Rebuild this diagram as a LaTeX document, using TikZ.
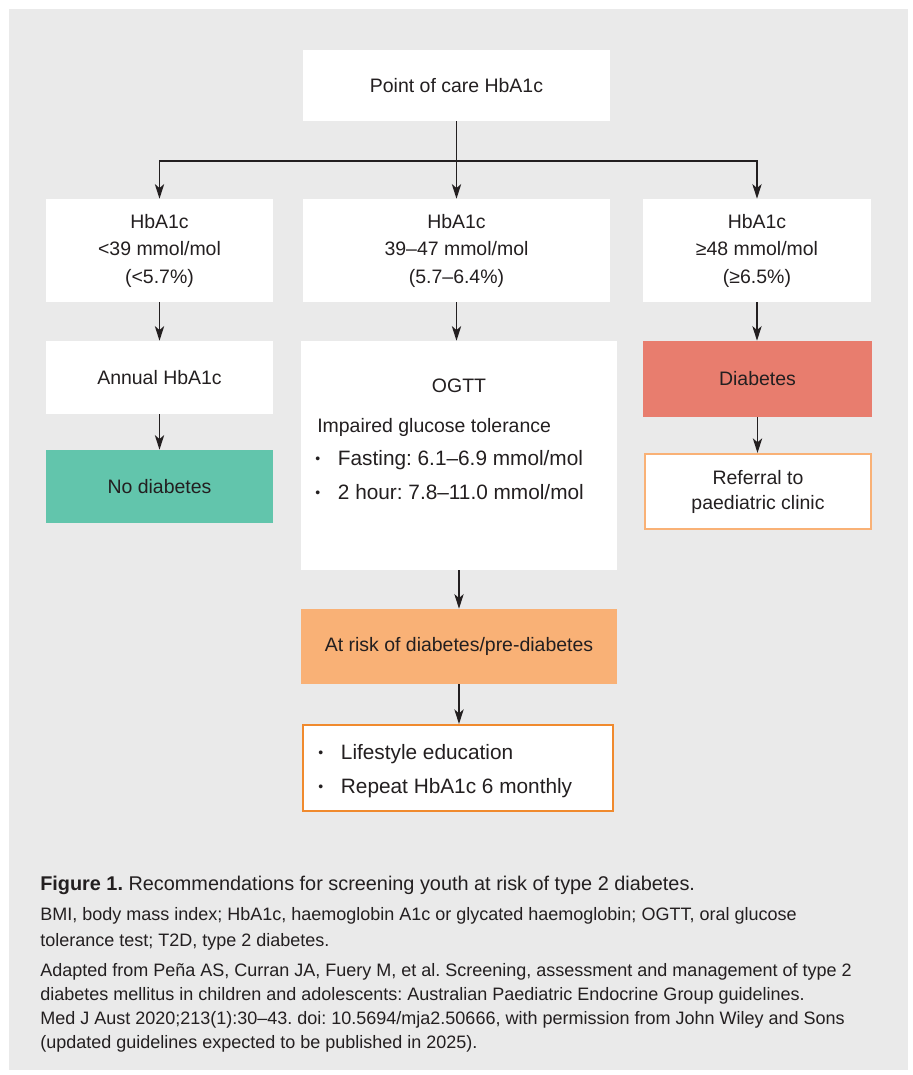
\documentclass[tikz,border=0pt]{standalone}
\usepackage{fontspec}
\setmainfont{Liberation Sans}
\usetikzlibrary{arrows.meta, calc, positioning}

\definecolor{panelgrey}{HTML}{EAEAEA}
\definecolor{ink}{HTML}{231F20}
\definecolor{nofill}{HTML}{62C5AC}
\definecolor{diabfill}{HTML}{E87D6E}
\definecolor{riskfill}{HTML}{F9B176}
\definecolor{riskline}{HTML}{F08A2E}

\newcommand{\boxfont}{\fontsize{14.6}{20.6}\selectfont}
\newcommand{\listfont}{\fontsize{15.6}{20}\selectfont}
\newcommand{\dotmark}{\makebox[17pt][l]{\raisebox{1pt}{\fontsize{10.5}{10.5}\selectfont\textbullet}}}

\tikzset{
    card/.style={rectangle, fill=white, inner sep=0pt, align=center, font=\boxfont, text=ink},
    link/.style={draw=ink, line width=1pt, -{Stealth[length=11pt, width=7pt, inset=3pt]}},
    item/.style={anchor=base west, inner sep=0pt, font=\listfont, text=ink},
    note/.style={anchor=base west, inner sep=0pt, text=ink, font=\fontsize{13.5}{16}\selectfont},
}

\begin{document}
\frenchspacing
\begin{tikzpicture}[x=0.75pt, y=-0.75pt]

    \useasboundingbox (0,0) rectangle (913,1075);
    \fill [panelgrey] (9,9) rectangle (908,1070);

    % top and first row
    \node [card, minimum width=230.25pt, minimum height=53.25pt] (poc) at (456.5,85.5) {Point of care HbA1c};
    \node [card, minimum width=170.25pt, minimum height=77.25pt] (low) at (159.5,250.5) {HbA1c\\<39 mmol/mol\\(<5.7\%)};
    \node [card, minimum width=230.25pt, minimum height=77.25pt] (mid) at (456.5,250.5) {HbA1c\\39–47 mmol/mol\\(5.7–6.4\%)};
    \node [card, minimum width=171pt, minimum height=77.25pt] (high) at (757,250.5) {HbA1c\\≥48 mmol/mol\\(≥6.5\%)};

    % left column
    \node [card, minimum width=170.25pt, minimum height=54.75pt] (annual) at (159.5,377.5) {Annual HbA1c};
    \node [card, fill=nofill, minimum width=170.25pt, minimum height=54.75pt] (nodiab) at (159.5,486.5) {No diabetes};

    % middle column
    \node [card, minimum width=237pt, minimum height=171.75pt] (ogtt) at (459,455.5) {};
    \node [card, anchor=base] (ogtttitle) at (459,392) {OGTT};
    \node [item, font=\boxfont] (igt) at (317,432) {Impaired glucose tolerance};
    \node [item] (fasting) at (315,465) {\dotmark Fasting: 6.1–6.9 mmol/mol};
    \node [item] (twohour) at (315,499) {\dotmark 2 hour: 7.8–11.0 mmol/mol};
    \node [card, fill=riskfill, minimum width=237pt, minimum height=56.25pt] (risk) at (459,646.5) {At risk of diabetes/pre-diabetes};
    \node [card, draw=riskline, line width=1.5pt, minimum width=232.5pt, minimum height=64.5pt] (plan) at (458,768) {};
    \node [item] (lifestyle) at (318,759) {\dotmark Lifestyle education};
    \node [item] (repeat) at (318,793) {\dotmark Repeat HbA1c 6 monthly};

    % right column
    \node [card, fill=diabfill, minimum width=171.75pt, minimum height=57pt] (diab) at (757.5,379) {Diabetes};
    \node [card, draw=riskfill, line width=1.5pt, minimum width=169.5pt, minimum height=56.25pt, font=\fontsize{14.6}{18.75}\selectfont] (referral) at (758,491.5) {Referral to\\paediatric clinic};

    % connectors
    \coordinate (fork) at (456.5,161);
    \draw [draw=ink, line width=1pt] (poc) -- (fork);
    \draw [link] (fork) -| (low);
    \draw [link] (fork) -- (mid);
    \draw [link] (fork) -| (high);
    \draw [link] (low) -- (annual);
    \draw [link] (annual) -- (nodiab);
    \draw [link] (mid.south) -- (mid.south |- ogtt.north);
    \draw [link] (ogtt) -- (risk);
    \draw [link] (risk.south) -- (risk.south |- plan.north);
    \draw [link] (high.south) -- (high.south |- diab.north);
    \draw [link] (diab.south) -- (diab.south |- referral.north);

    % caption
    \node [note, font=\fontsize{14.9}{18}\selectfont] (cap) at (40,890) {\textbf{Figure 1.} Recommendations for screening youth at risk of type 2 diabetes.};
    \node [note] (abbr1) at (40,920) {BMI, body mass index; HbA1c, haemoglobin A1c or glycated haemoglobin; OGTT, oral glucose};
    \node [note] (abbr2) at (40,946) {tolerance test; T2D, type 2 diabetes.};
    \node [note] (src1) at (40,976) {Adapted from Peña AS, Curran JA, Fuery M, et al. Screening, assessment and management of type 2};
    \node [note] (src2) at (40,1000) {diabetes mellitus in children and adolescents: Australian Paediatric Endocrine Group guidelines.};
    \node [note] (src3) at (40,1024) {Med J Aust 2020;213(1):30–43. doi: 10.5694/mja2.50666, with permission from John Wiley and Sons};
    \node [note] (src4) at (40,1048) {(updated guidelines expected to be published in 2025).};

\end{tikzpicture}
\end{document}
